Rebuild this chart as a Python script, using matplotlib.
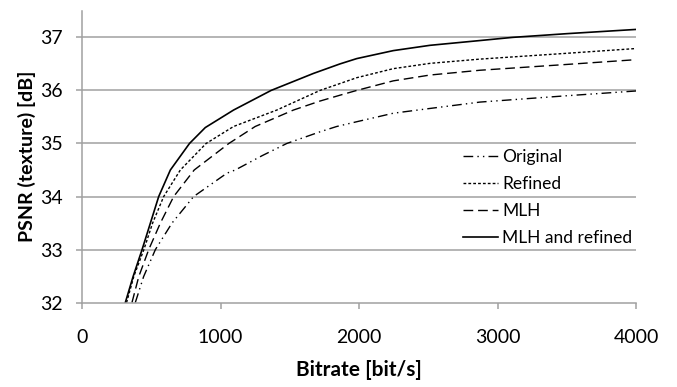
import matplotlib
matplotlib.use("Agg")
from matplotlib import pyplot as plt

plt.rcParams['font.family'] = ['Lato', 'DejaVu Sans']

# (bitrate, PSNR)
orig_x = [385, 445, 530, 650, 806, 1046, 1106, 1300, 1478, 1718, 1838, 1983, 2246, 2511, 2871, 3500, 4000]
orig_y = [32.0, 32.49, 33.0, 33.5, 34.0, 34.44, 34.5, 34.77, 35.0, 35.22, 35.32, 35.41, 35.57, 35.66, 35.78, 35.9, 35.99]

ref_x = [322, 375, 447, 510, 590, 710, 896, 1094, 1406, 1718, 1862, 1983, 2246, 2511, 2871, 3500, 4000]
ref_y = [32.0, 32.5, 33.0, 33.5, 34.0, 34.5, 35.0, 35.32, 35.63, 36.0, 36.13, 36.24, 36.41, 36.51, 36.59, 36.7, 36.79]

mlh_x = [361, 410, 482, 566, 662, 810, 1000, 1060, 1250, 1526, 1718, 1862, 1983, 2246, 2511, 2871, 3500, 4000]
mlh_y = [32.0, 32.49, 33.0, 33.5, 34.0, 34.5, 34.88, 35.0, 35.32, 35.63, 35.8, 35.91, 36.0, 36.18, 36.29, 36.38, 36.49, 36.58]

both_x = [313, 369, 434, 494, 554, 638, 776, 890, 1094, 1365, 1670, 1862, 1983, 2246, 2511, 2871, 3108, 3500, 4000]
both_y = [32.0, 32.49, 33.0, 33.5, 34.0, 34.5, 35.0, 35.3, 35.63, 36.0, 36.32, 36.5, 36.6, 36.75, 36.85, 36.94, 37.0, 37.07, 37.15]

xticks = [0, 1000, 2000, 3000, 4000]
yticks = [32, 33, 34, 35, 36, 37]

fig = plt.figure(figsize=(6.77, 3.87), dpi=100)
ax = fig.add_axes([0.121, 0.218, 0.819, 0.754])

grid_c = '#a0a0a0'
for y in yticks[1:]:
    ax.axhline(y, color=grid_c, lw=1.1, zorder=0)

ax.plot(orig_x, orig_y, color='black', lw=1.0, linestyle=(0, (7, 3, 1, 3, 1, 3)), label='Original')
ax.plot(ref_x, ref_y, color='black', lw=1.0, linestyle=(0, (2, 1.5)), label='Refined')
ax.plot(mlh_x, mlh_y, color='black', lw=1.0, linestyle=(0, (7, 3.5)), label='MLH')
ax.plot(both_x, both_y, color='black', lw=1.2, linestyle='-', label='MLH and refined')

ax.set_xlim(0, 4000)
ax.set_ylim(32, 37.5)
ax.set_xticks(xticks)
ax.set_yticks(yticks)
ax.tick_params(axis='both', colors=grid_c, labelcolor='black', labelsize=14, length=4, width=1.1)
ax.tick_params(axis='x', pad=15)
ax.tick_params(axis='y', pad=10)

for s in ['top', 'right']:
    ax.spines[s].set_visible(False)
for s in ['left', 'bottom']:
    ax.spines[s].set_color(grid_c)
    ax.spines[s].set_linewidth(1.1)

ax.set_xlabel('Bitrate [bit/s]', fontsize=15, fontweight='bold', labelpad=10)
ax.set_ylabel('PSNR (texture) [dB]', fontsize=14, fontweight='bold', labelpad=3)

ax.legend(loc='center left', bbox_to_anchor=(0.688, 0.36), frameon=False, fontsize=12.5,
          handlelength=2.0, handletextpad=0.25, labelspacing=0.62, borderpad=0, borderaxespad=0)

fig.savefig('out.png', dpi=100)
